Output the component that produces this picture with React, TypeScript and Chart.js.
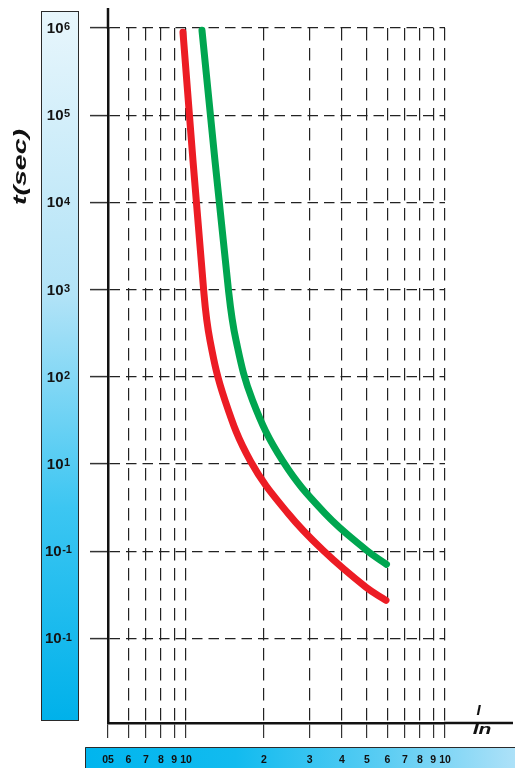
import React, { useEffect, useRef } from 'react';
import { Chart, registerables } from 'chart.js';

Chart.register(...registerables);

// ---- data ----
const redX = [0.9737, 1.1686, 1.238, 1.4145, 1.7775, 2.476, 3.381, 4.955, 5.918];
const redY = [8.93e5, 1035, 262.2, 53.8, 10.7, 2.72, 1.024, 0.3855, 0.2735];
const greenX = [1.1529, 1.4567, 1.5603, 1.8062, 2.369, 3.441, 4.985, 5.944];
const greenY = [9.41e5, 1035, 262.2, 53.8, 10.7, 2.72, 1.024, 0.708];

const xTickValues = [0.5, 0.6, 0.7, 0.8, 0.9, 1, 2, 3, 4, 5, 6, 7, 8, 9, 10];
const xTickLabels = ['05', '6', '7', '8', '9', '10', '2', '3', '4', '5', '6', '7', '8', '9', '10'];
const yTickValues = [1e6, 1e5, 1e4, 1e3, 1e2, 1e1, 1, 0.1];
const yTickExponents = ['6', '5', '4', '3', '2', '1', '-1', '-1'];
const yAxisTitle = 't(sec)';
const xTitleTop = 'I';
const xTitleBottom = 'In';

const X_MIN = 0.5;
const X_MAX = 10;
const X_AXIS_END = 18.3;
const Y_MIN = 0.01072;
const Y_MAX = 1e6;
const Y_AXIS_END = 1.7e6;

const FONT = '"Liberation Sans", Arial, sans-serif';

const decor = {
  id: 'decor',
  beforeDraw(chart: any) {
    const ctx = chart.ctx as CanvasRenderingContext2D;
    ctx.save();
    // left gradient bar
    const g = ctx.createLinearGradient(0, 11, 0, 721);
    g.addColorStop(0, '#e8f6fc');
    g.addColorStop(0.4, '#b2e3f7');
    g.addColorStop(0.7, '#3cc6f2');
    g.addColorStop(1, '#00b1ea');
    ctx.fillStyle = g;
    ctx.fillRect(41, 11, 38, 710);
    ctx.strokeStyle = '#2a2a2a';
    ctx.lineWidth = 1;
    ctx.strokeRect(41.5, 11.5, 37, 709);
    // bottom gradient bar
    const g2 = ctx.createLinearGradient(85, 0, 515, 0);
    g2.addColorStop(0, '#00b5ee');
    g2.addColorStop(0.35, '#12bbef');
    g2.addColorStop(0.7, '#5ccdf3');
    g2.addColorStop(1, '#ade1f8');
    ctx.fillStyle = g2;
    ctx.fillRect(85, 747, 430, 21);
    ctx.beginPath();
    ctx.moveTo(85.5, 768);
    ctx.lineTo(85.5, 747.5);
    ctx.lineTo(515, 747.5);
    ctx.stroke();
    // y title
    ctx.save();
    ctx.translate(21, 167);
    ctx.rotate(-Math.PI / 2);
    ctx.scale(1.5, 1);
    ctx.font = `italic bold 19px ${FONT}`;
    ctx.fillStyle = '#111';
    ctx.textAlign = 'center';
    ctx.textBaseline = 'middle';
    ctx.fillText(yAxisTitle, 0, 0);
    ctx.restore();
    ctx.restore();
  },
  afterDraw(chart: any) {
    const ctx = chart.ctx as CanvasRenderingContext2D;
    const xs = chart.scales.x;
    const ys = chart.scales.y;
    const area = chart.chartArea;
    ctx.save();
    // axis extensions
    ctx.strokeStyle = '#111';
    ctx.lineWidth = 2.5;
    ctx.beginPath();
    ctx.moveTo(area.left, area.top + 1);
    ctx.lineTo(area.left, ys.getPixelForValue(Y_AXIS_END));
    ctx.moveTo(area.right - 1, area.bottom);
    ctx.lineTo(xs.getPixelForValue(X_AXIS_END), area.bottom);
    ctx.stroke();
    // y tick labels with superscripts
    ctx.fillStyle = '#141414';
    ctx.textAlign = 'left';
    ctx.textBaseline = 'alphabetic';
    yTickValues.forEach((v, i) => {
      const py = ys.getPixelForValue(v);
      ctx.font = `bold 15px ${FONT}`;
      const w1 = ctx.measureText('10').width;
      ctx.font = `bold 11px ${FONT}`;
      const w2 = ctx.measureText(yTickExponents[i]).width;
      const x0 = 58.5 - (w1 + w2 + 0.5) / 2;
      const base = py + 5;
      ctx.font = `bold 15px ${FONT}`;
      ctx.fillText('10', x0, base);
      ctx.font = `bold 11px ${FONT}`;
      ctx.fillText(yTickExponents[i], x0 + w1 + 0.5, base - 2.8);
    });
    // I / In
    ctx.fillStyle = '#111';
    ctx.textAlign = 'center';
    ctx.font = `italic bold 15px ${FONT}`;
    ctx.fillText(xTitleTop, 478.5, 715);
    ctx.save();
    ctx.translate(482, 733.5);
    ctx.scale(1.4, 1);
    ctx.fillText(xTitleBottom, 0, 0);
    ctx.restore();
    ctx.restore();
  },
};

export default function App() {
  const ref = useRef<HTMLCanvasElement | null>(null);
  useEffect(() => {
    document.body.style.margin = '0';
    document.body.style.overflow = 'hidden';
    const canvas = ref.current;
    if (!canvas) return;
    const lineStyle = {
      borderWidth: 7,
      pointRadius: 0,
      borderCapStyle: 'round',
      borderJoinStyle: 'round',
      tension: 0.4,
      fill: false,
      clip: false,
    };
    const chart = new Chart(canvas, {
      type: 'line',
      data: {
        datasets: [
          {
            label: 'red',
            data: redX.map((x, i) => ({ x, y: redY[i] })),
            borderColor: '#ec1c24',
            ...lineStyle,
          } as any,
          {
            label: 'green',
            data: greenX.map((x, i) => ({ x, y: greenY[i] })),
            borderColor: '#00a650',
            ...lineStyle,
          } as any,
        ],
      },
      options: {
        animation: false,
        responsive: false,
        devicePixelRatio: 1,
        layout: { padding: { left: 0, top: 28, right: 70, bottom: 0 } },
        plugins: { legend: { display: false }, tooltip: { enabled: false }, title: { display: false } },
        scales: {
          x: {
            type: 'logarithmic',
            min: X_MIN,
            max: X_MAX,
            afterBuildTicks: (s: any) => {
              s.ticks = xTickValues.map((v) => ({ value: v }));
            },
            afterFit: (s: any) => {
              s.height = 45;
            },
            ticks: {
              autoSkip: false,
              maxRotation: 0,
              minRotation: 0,
              padding: 16,
              color: '#111',
              font: { family: FONT, size: 10.5, weight: 'bold' },
              callback: (_v: any, i: number) => xTickLabels[i],
            },
            grid: {
              color: '#222',
              lineWidth: 1.2,
              tickLength: 15,
              tickColor: '#333',
              tickWidth: 1.2,
              tickBorderDash: [],
            },
            border: { display: true, color: '#111', width: 2.5, dash: [12.5, 7.5] },
          },
          y: {
            type: 'logarithmic',
            min: Y_MIN,
            max: Y_MAX,
            afterBuildTicks: (s: any) => {
              s.ticks = yTickValues.map((v) => ({ value: v }));
            },
            afterFit: (s: any) => {
              s.width = 108;
            },
            ticks: { display: false },
            grid: {
              color: '#222',
              lineWidth: 1.2,
              tickLength: 18,
              tickColor: '#333',
              tickWidth: 1.5,
              tickBorderDash: [],
            },
            border: { display: true, color: '#111', width: 2.5, dash: [10.5, 6] },
          },
        },
      } as any,
      plugins: [decor],
    });
    return () => chart.destroy();
  }, []);
  return (
    <div style={{ position: 'absolute', left: 0, top: 0, width: 515, height: 768 }}>
      <canvas ref={ref} width={515} height={768} style={{ display: 'block', width: 515, height: 768 }} />
    </div>
  );
}
